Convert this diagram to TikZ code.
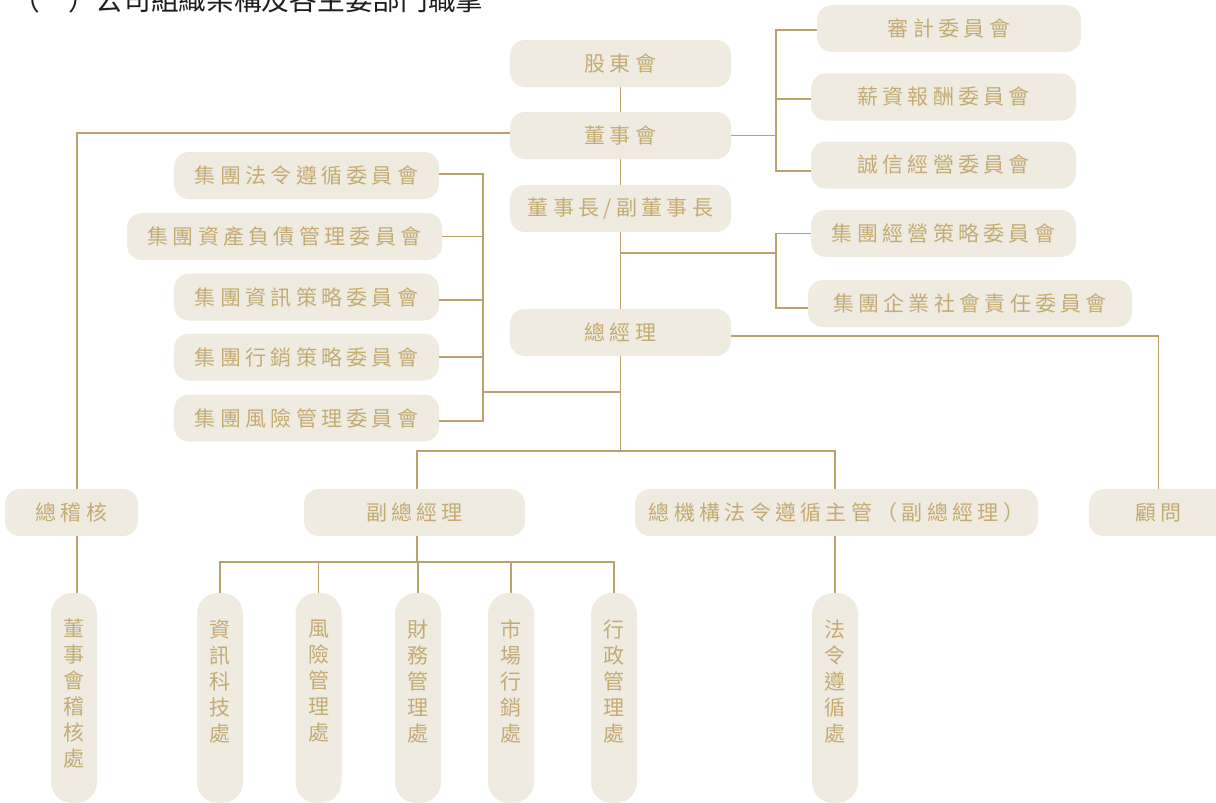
\documentclass[tikz,border=0pt]{standalone}
\usepackage{fontspec}
\setmainfont{Noto Sans CJK TC}
\usetikzlibrary{calc}
\definecolor{boxfill}{HTML}{EFEBE0}
\definecolor{txtc}{HTML}{C4AB74}
\definecolor{lnc}{HTML}{B9A26C}
\definecolor{titlec}{HTML}{1E1E1E}
\newdimen\lsp \lsp=4.3pt
\def\spc#1{\spcaux#1\relax}
\def\spcaux#1#2{#1\ifx#2\relax\else\kern\lsp\expandafter\spcaux\expandafter#2\fi}
\tikzset{
  hbox/.style={fill=boxfill, rounded corners=15pt, minimum height=47pt, inner sep=0pt,
    text=txtc, font=\fontsize{21pt}{24pt}\selectfont},
  vbox/.style={fill=boxfill, rounded corners=21pt, minimum width=46pt, minimum height=210pt, inner sep=0pt},
  vtxt/.style={text=txtc, font=\fontsize{21pt}{26pt}\selectfont, align=center, inner sep=0pt, anchor=north},
  conn/.style={draw=lnc, line width=1.2pt},
  titletxt/.style={anchor=base west, inner sep=0pt, text=titlec, font=\fontsize{27.7pt}{30pt}\selectfont}
}
\begin{document}
\begin{tikzpicture}[x=1pt,y=-1pt]
\useasboundingbox (0,0) rectangle (1216,803);
\clip (0,0) rectangle (1216,803);
% title
\node[titletxt] (title) at (12.5,10) {（　）公司組織架構及各主要部門職掌};
% central column
\node[hbox, minimum width=221pt] (sh) at (620.5,63.5) {\spc{股東會}};
\node[hbox, minimum width=221pt] (bd) at (620.5,135.5) {\spc{董事會}};
\node[hbox, minimum width=221pt] (ch) at (620.5,208.5) {\spc{董事長/副董事長}};
\node[hbox, minimum width=221pt] (gm) at (620.5,332.5) {\spc{總經理}};
% right committees
\node[hbox, minimum width=264pt] (aud) at (949,28.5) {\spc{審計委員會}};
\node[hbox, minimum width=265pt] (pay) at (943.5,97) {\spc{薪資報酬委員會}};
\node[hbox, minimum width=265pt] (integ) at (943.5,165) {\spc{誠信經營委員會}};
\node[hbox, minimum width=265pt] (strat) at (943.5,233.5) {\spc{集團經營策略委員會}};
\node[hbox, minimum width=324pt] (csr) at (970,303.5) {\spc{集團企業社會責任委員會}};
% left committees
\node[hbox, minimum width=265pt] (lc1) at (306.5,175.5) {\spc{集團法令遵循委員會}};
\node[hbox, minimum width=315pt] (lc2) at (284.5,236.5) {\spc{集團資產負債管理委員會}};
\node[hbox, minimum width=265pt] (lc3) at (306.5,297) {\spc{集團資訊策略委員會}};
\node[hbox, minimum width=265pt] (lc4) at (306.5,357) {\spc{集團行銷策略委員會}};
\node[hbox, minimum width=265pt] (lc5) at (306.5,418) {\spc{集團風險管理委員會}};
% second level
\node[hbox, minimum width=133pt] (aud2) at (71.5,512.5) {\spc{總稽核}};
\node[hbox, minimum width=221pt] (vp) at (414.5,512.5) {\spc{副總經理}};
\node[hbox, minimum width=403pt] (cco) at (836.5,512.5) {\spc{總機構法令遵循主管（副總經理）}};
\node[hbox, minimum width=139pt] (adv) at (1158.5,512.5) {\spc{顧問}};
% departments
\node[vbox] (d0) at (74,698) {};
\node[vbox] (d1) at (220,698) {};
\node[vbox] (d2) at (318.5,698) {};
\node[vbox] (d3) at (418,698) {};
\node[vbox] (d4) at (511,698) {};
\node[vbox] (d5) at (614,698) {};
\node[vbox] (d6) at (835,698) {};
\node[vtxt] (d0t) at ([yshift=-26pt]d0.north) {董\\事\\會\\稽\\核\\處};
\node[vtxt] (d1t) at ([yshift=-27pt]d1.north) {資\\訊\\科\\技\\處};
\node[vtxt] (d2t) at ([yshift=-27pt]d2.north) {風\\險\\管\\理\\處};
\node[vtxt] (d3t) at ([yshift=-27pt]d3.north) {財\\務\\管\\理\\處};
\node[vtxt] (d4t) at ([yshift=-27pt]d4.north) {市\\場\\行\\銷\\處};
\node[vtxt] (d5t) at ([yshift=-27pt]d5.north) {行\\政\\管\\理\\處};
\node[vtxt] (d6t) at ([yshift=-27pt]d6.north) {法\\令\\遵\\循\\處};
% helper coordinates
\coordinate (rA) at (776,135.5);
\coordinate (rB) at (776,253);
\coordinate (cB) at (620.5,253);
\coordinate (lT) at (483,392);
\coordinate (cL) at (620.5,392);
\coordinate (cM) at (620.5,451);
\coordinate (vM) at (417,562);
\coordinate (audL) at ([yshift=-1.5pt]aud.west);
\coordinate (payL) at ([yshift=-2pt]pay.west);
\coordinate (intL) at ([yshift=-6pt]integ.west);
\coordinate (csrL) at ([yshift=-4.5pt]csr.west);
\coordinate (lc1e) at ([yshift=1.5pt]lc1.east);
\coordinate (lc3e) at ([yshift=-3pt]lc3.east);
\coordinate (lc5e) at ([yshift=-3pt]lc5.east);
\coordinate (bdL) at ([yshift=2.5pt]bd.west);
\coordinate (gmR) at ([yshift=-3.5pt]gm.east);
\coordinate (aud2N) at ([xshift=5.5pt]aud2.north);
\coordinate (aud2S) at ([xshift=5.5pt]aud2.south);
\coordinate (d0N) at ([xshift=3pt]d0.north);
\coordinate (vpN) at ([xshift=2.5pt]vp.north);
\coordinate (vpS) at ([xshift=2.5pt]vp.south);
\coordinate (ccoN) at ([xshift=-1.5pt]cco.north);
\coordinate (ccoS) at ([xshift=-1.5pt]cco.south);
% connectors
\draw[conn] (sh) -- (bd);
\draw[conn] (bd) -- (ch);
\draw[conn] (ch) -- (gm);
\draw[conn] (bd.east) -- (rA);
\draw[conn] (audL) -| (rA) |- (intL);
\draw[conn] (payL) -- (payL -| rA);
\draw[conn] (cB) -- (rB);
\draw[conn] (strat.west) -| (rB) |- (csrL);
\draw[conn] (gmR) -| (adv.north);
\draw[conn] (bdL) -| (aud2N);
\draw[conn] (aud2S) -- (d0N);
\draw[conn] (lc1e) -| (lT) |- (lc5e);
\draw[conn] (lc2.east) -- (lc2.east -| lT);
\draw[conn] (lc3e) -- (lc3e -| lT);
\draw[conn] (lc4.east) -- (lc4.east -| lT);
\draw[conn] (lT) -- (cL);
\draw[conn] (gm) -- (cM);
\draw[conn] (vpN) |- (cM) -| (ccoN);
\draw[conn] (vpS) -- (vM);
\draw[conn] (d1.north) |- (d5.north |- vM) -- (d5.north);
\draw[conn] (d2.north) -- (d2.north |- vM);
\draw[conn] (d3.north) -- (d3.north |- vM);
\draw[conn] (d4.north) -- (d4.north |- vM);
\draw[conn] (ccoS) -- (d6.north);
\end{tikzpicture}
\end{document}
